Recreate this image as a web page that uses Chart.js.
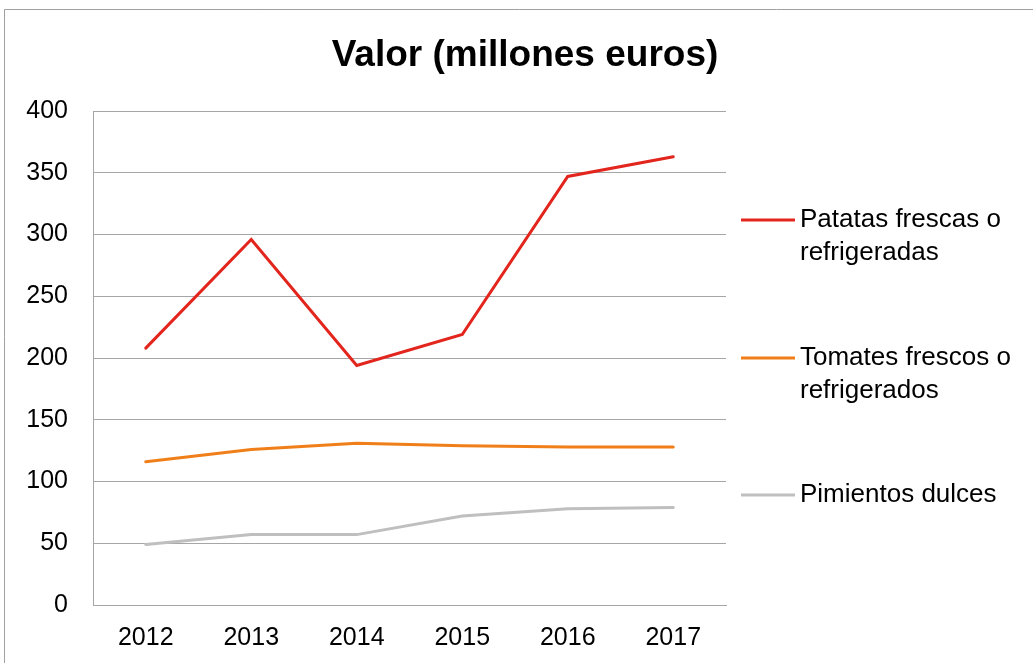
<!DOCTYPE html>
<html>
<head>
<meta charset="utf-8">
<script src="https://cdn.jsdelivr.net/npm/chart.js@4.4.1/dist/chart.umd.min.js"></script>
<style>
  html, body { margin: 0; padding: 0; background: #fff; }
  #wrap { position: relative; width: 1033px; height: 663px; }
</style>
</head>
<body>
<div id="wrap"><canvas id="c" width="1033" height="663"></canvas></div>
<script>
// ---- data ----
const categories = ['2012', '2013', '2014', '2015', '2016', '2017'];
const patatas = [208, 296, 194, 219, 347, 363];
const tomates = [116, 126, 131, 129, 128, 128];
const pimientos = [49, 57, 57, 72, 78, 79];
const seriesNames = ['Patatas frescas o refrigeradas', 'Tomates frescos o refrigerados', 'Pimientos dulces'];
const legendLines = [['Patatas frescas o', 'refrigeradas'], ['Tomates frescos o', 'refrigerados'], ['Pimientos dulces']];
const yTicks = [0, 50, 100, 150, 200, 250, 300, 350, 400];
const titleText = 'Valor (millones euros)';

const colors = ['#e3261d', '#f07f1a', '#bfbfbf'];
const FONT = "'Liberation Sans', Arial, sans-serif";

const frame = {
  id: 'frame',
  beforeDraw(chart) {
    const ctx = chart.ctx;
    ctx.save();
    ctx.strokeStyle = '#a0a0a0';
    ctx.lineWidth = 1;
    ctx.beginPath();
    ctx.moveTo(4.5, 670);
    ctx.lineTo(4.5, 9.5);
    ctx.lineTo(1040, 9.5);
    ctx.stroke();
    ctx.restore();
  }
};

const sideLegend = {
  id: 'sideLegend',
  afterDraw(chart) {
    const ctx = chart.ctx;
    const ys = [220, 358, 495];
    ctx.save();
    chart.data.datasets.forEach((ds, i) => {
      const y = ys[i];
      ctx.strokeStyle = ds.borderColor;
      ctx.lineWidth = 3;
      ctx.lineCap = 'butt';
      ctx.beginPath();
      ctx.moveTo(741, y);
      ctx.lineTo(795, y);
      ctx.stroke();
      ctx.fillStyle = '#000';
      ctx.font = '26px ' + FONT;
      ctx.textBaseline = 'middle';
      ctx.textAlign = 'left';
      legendLines[i].forEach((t, k) => {
        ctx.fillText(t, 800, y + k * 33);
      });
    });
    ctx.restore();
  }
};

const mk = (label, data, color) => ({
  label, data,
  borderColor: color, backgroundColor: color,
  borderWidth: 3, pointRadius: 0, tension: 0, fill: false,
  borderCapStyle: 'round', borderJoinStyle: 'miter'
});

new Chart(document.getElementById('c'), {
  type: 'line',
  data: {
    labels: categories,
    datasets: [
      mk(seriesNames[0], patatas, colors[0]),
      mk(seriesNames[1], tomates, colors[1]),
      mk(seriesNames[2], pimientos, colors[2])
    ]
  },
  options: {
    responsive: false,
    animation: false,
    events: [],
    layout: { padding: { left: 17, right: 0, top: 0, bottom: 0 } },
    plugins: {
      legend: { display: false },
      tooltip: { enabled: false },
      title: {
        display: true,
        text: titleText,
        color: '#000',
        font: { family: FONT, size: 37, weight: 'bold', lineHeight: 1.2 },
        padding: { top: 34, bottom: 32.6 }
      }
    },
    scales: {
      x: {
        offset: true,
        grid: { display: false, drawTicks: false },
        border: { display: true, color: '#a6a6a6', width: 1 },
        ticks: { color: '#000', font: { family: FONT, size: 25 }, padding: 18, maxRotation: 0 },
        afterFit(s) { s.height = 58; }
      },
      y: {
        min: 0, max: 400,
        afterBuildTicks(s) { s.ticks = yTicks.map(v => ({ value: v })); },
        grid: { color: '#a6a6a6', lineWidth: 1, drawTicks: false },
        border: { display: true, color: '#a6a6a6', width: 1 },
        ticks: { color: '#000', font: { family: FONT, size: 25 }, padding: 25 },
        afterFit(s) { s.width = 76; }
      },
      yr: {
        position: 'right',
        display: true,
        grid: { display: false, drawTicks: false },
        border: { display: false },
        ticks: { display: false },
        afterFit(s) { s.width = 307; }
      }
    }
  },
  plugins: [frame, sideLegend]
});
</script>
</body>
</html>
